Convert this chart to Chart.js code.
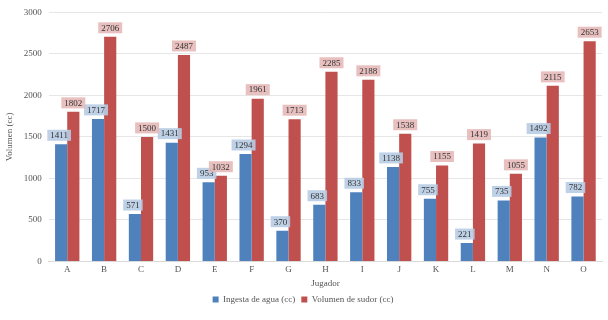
<!DOCTYPE html>
<html lang="es">
<head>
<meta charset="UTF-8">
<title>Ingesta de agua y volumen de sudor</title>
<script src="https://cdn.jsdelivr.net/npm/chart.js"></script>
<style>
  html,body{margin:0;padding:0;background:#fff;}
  #wrap{width:608px;height:320px;}
</style>
</head>
<body>
<div id="wrap"><canvas id="chart" width="608" height="320"></canvas></div>
<script>
const players = ["A","B","C","D","E","F","G","H","I","J","K","L","M","N","O"];
const water = [1411,1717,571,1431,953,1294,370,683,833,1138,755,221,735,1492,782];
const sweat = [1802,2706,1500,2487,1032,1961,1713,2285,2188,1538,1155,1419,1055,2115,2653];
const yTicks = [0,500,1000,1500,2000,2500,3000];

const FONT = "'Liberation Serif', 'DejaVu Serif', serif";

// boxed value labels above each bar
const boxLabels = {
  id:'boxLabels',
  afterDatasetsDraw(chart){
    const ctx = chart.ctx;
    const fills = ['rgba(184,204,228,0.9)','rgba(230,185,184,0.9)'];
    ctx.save();
    ctx.font = "9px " + FONT;
    ctx.textAlign = 'center';
    ctx.textBaseline = 'middle';
    chart.data.datasets.forEach((ds,di)=>{
      chart.getDatasetMeta(di).data.forEach((bar,i)=>{
        const txt = String(ds.data[i]);
        const w = ctx.measureText(txt).width + 6, h = 11;
        const cx = bar.x - (di===0 ? 2 : 0), cy = bar.y - 9;
        ctx.fillStyle = fills[di];
        ctx.fillRect(cx - w/2, cy - h/2, w, h);
        ctx.fillStyle = '#333';
        ctx.fillText(txt, cx, cy + 0.5);
      });
    });
    ctx.restore();
  }
};

new Chart(document.getElementById('chart'),{
  type:'bar',
  data:{
    labels:players,
    datasets:[
      {label:'Ingesta de agua (cc)',data:water,backgroundColor:'#4f81bd',categoryPercentage:0.66,barPercentage:1},
      {label:'Volumen de sudor (cc)',data:sweat,backgroundColor:'#c0504d',categoryPercentage:0.66,barPercentage:1}
    ]
  },
  options:{
    responsive:false,
    animation:false,
    layout:{padding:{left:4,right:6,top:5,bottom:6}},
    plugins:{
      legend:{
        position:'bottom',
        labels:{boxWidth:6,boxHeight:6,font:{family:FONT,size:9},color:'#555',padding:6}
      },
      tooltip:{enabled:false}
    },
    scales:{
      x:{
        grid:{display:false,drawTicks:false,tickLength:0},
        border:{color:'#d9d9d9'},
        ticks:{font:{family:FONT,size:9},color:'#555',padding:3},
        title:{display:true,text:'Jugador',font:{family:FONT,size:9},color:'#555',padding:{top:0,bottom:0}}
      },
      y:{
        min:0,max:3000,
        afterBuildTicks(s){ s.ticks = yTicks.map(v=>({value:v})); },
        grid:{color:'#e6e6e6',drawTicks:false},
        border:{display:false},
        ticks:{font:{family:FONT,size:9},color:'#555',padding:7,callback:v=>String(v)},
        title:{display:true,text:'Volumen (cc)',font:{family:FONT,size:9},color:'#555',padding:{top:0,bottom:2}}
      }
    }
  },
  plugins:[boxLabels]
});
</script>
</body>
</html>
